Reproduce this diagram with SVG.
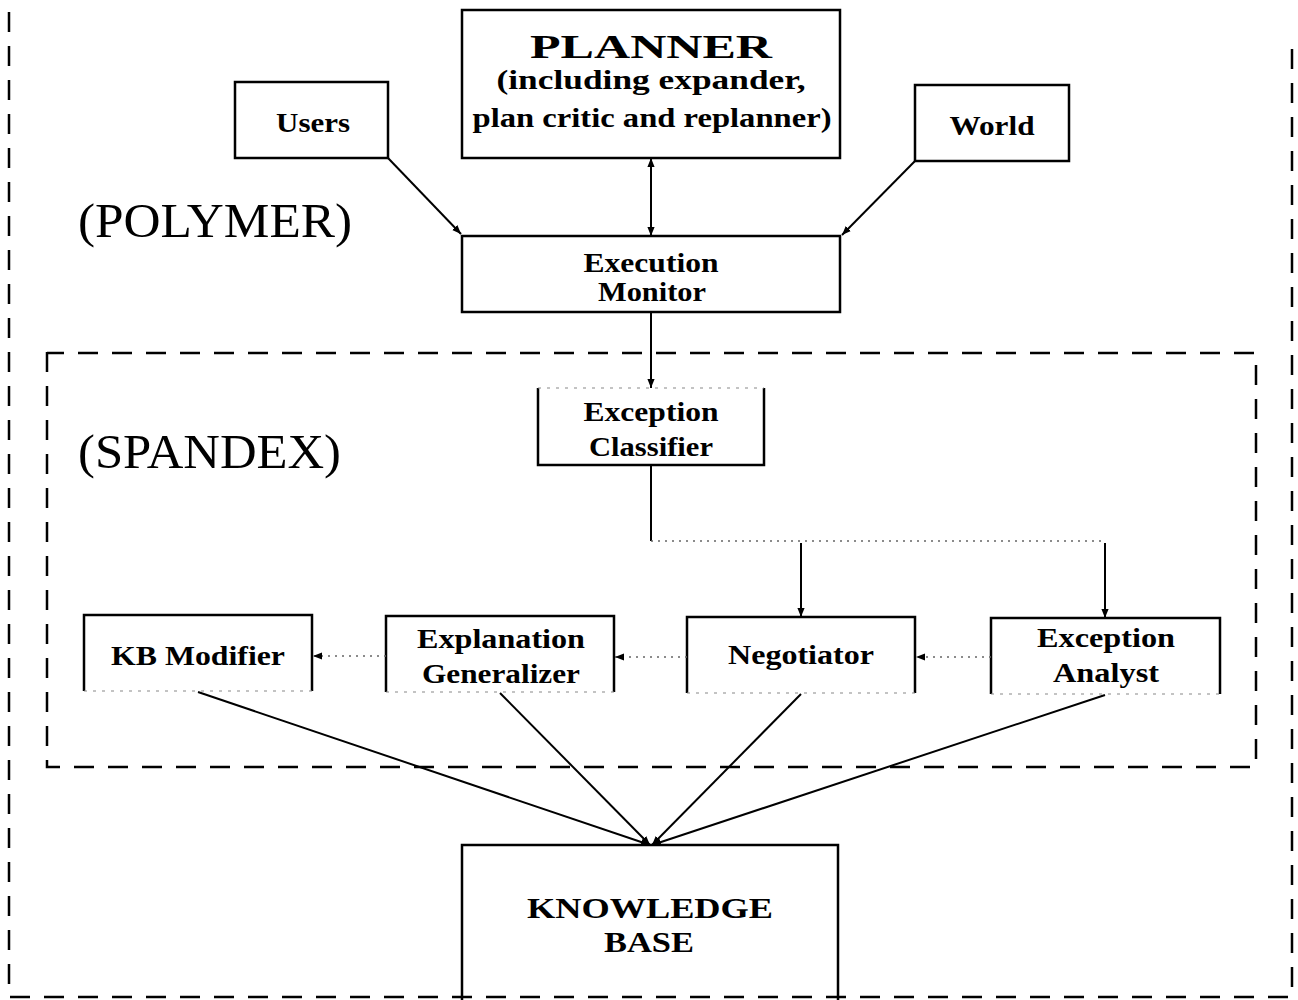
<svg xmlns="http://www.w3.org/2000/svg" width="1298" height="1000" viewBox="0 0 1298 1000">
<style>
.box{fill:none;stroke:#000;stroke-width:2.5}
.faint{fill:none;stroke:#888;stroke-width:1.2;stroke-dasharray:3 6}
.t{font-family:"Liberation Serif","Times New Roman",serif;font-weight:bold;font-size:28px;text-anchor:middle;fill:#000}
.t.lg{font-size:33px}
.t.kb{font-size:30px}
.big{font-family:"Liberation Serif","Times New Roman",serif;font-size:48px;fill:#000}
.ln{fill:none;stroke:#000;stroke-width:2}
.dot{fill:none;stroke:#666;stroke-width:1.3;stroke-dasharray:2 5}
.dash{fill:none;stroke:#000;stroke-width:2.5;stroke-dasharray:20 14}
</style>
<defs>
<marker id="ah" viewBox="0 0 10 10" refX="10" refY="5" markerWidth="9" markerHeight="9" markerUnits="userSpaceOnUse" orient="auto-start-reverse">
<path d="M0,1 L10,5 L0,9 z" fill="#000"/>
</marker>
</defs>

<g id="frames">
<path class="dash" d="M9,12 V997 H1292 V40"/>
<path class="dash" d="M47,352 V767 H1256 V353 H47"/>
<text class="big" x="78" y="237" textLength="274" lengthAdjust="spacingAndGlyphs">(POLYMER)</text>
<text class="big" x="78" y="468" textLength="263" lengthAdjust="spacingAndGlyphs">(SPANDEX)</text>
</g>

<g id="planner">
<rect class="box" x="462" y="10" width="378" height="148"/>
<text class="t lg" x="651" y="58" textLength="242" lengthAdjust="spacingAndGlyphs">PLANNER</text>
<text class="t" x="651" y="89" textLength="309" lengthAdjust="spacingAndGlyphs">(including expander,</text>
<text class="t" x="652" y="127" textLength="359" lengthAdjust="spacingAndGlyphs">plan critic and replanner)</text>
</g>
<g id="users">
<rect class="box" x="235" y="82" width="153" height="76"/>
<text class="t" x="313" y="132" textLength="74" lengthAdjust="spacingAndGlyphs">Users</text>
</g>
<g id="world">
<rect class="box" x="915" y="85" width="154" height="76"/>
<text class="t" x="992" y="135" textLength="85" lengthAdjust="spacingAndGlyphs">World</text>
</g>
<g id="execution-monitor">
<rect class="box" x="462" y="236" width="378" height="76"/>
<text class="t" x="651" y="272" textLength="135" lengthAdjust="spacingAndGlyphs">Execution</text>
<text class="t" x="652" y="301" textLength="108" lengthAdjust="spacingAndGlyphs">Monitor</text>
</g>
<g id="exception-classifier">
<path class="box" d="M538,388 V465 H764 V388"/>
<line class="faint" x1="538" y1="388" x2="764" y2="388"/>
<text class="t" x="651" y="421" textLength="135" lengthAdjust="spacingAndGlyphs">Exception</text>
<text class="t" x="651" y="456" textLength="124" lengthAdjust="spacingAndGlyphs">Classifier</text>
</g>
<g id="kb-modifier">
<path class="box" d="M84,691 V615 H312 V691"/>
<line class="faint" x1="84" y1="691" x2="312" y2="691"/>
<text class="t" x="198" y="665" textLength="174" lengthAdjust="spacingAndGlyphs">KB Modifier</text>
</g>
<g id="explanation-generalizer">
<path class="box" d="M386,692 V616 H614 V692"/>
<line class="faint" x1="386" y1="692" x2="614" y2="692"/>
<text class="t" x="501" y="648" textLength="168" lengthAdjust="spacingAndGlyphs">Explanation</text>
<text class="t" x="501" y="683" textLength="158" lengthAdjust="spacingAndGlyphs">Generalizer</text>
</g>
<g id="negotiator">
<path class="box" d="M687,693 V617 H915 V693"/>
<line class="faint" x1="687" y1="693" x2="915" y2="693"/>
<text class="t" x="801" y="664" textLength="146" lengthAdjust="spacingAndGlyphs">Negotiator</text>
</g>
<g id="exception-analyst">
<path class="box" d="M991,694 V618 H1220 V694"/>
<line class="faint" x1="991" y1="694" x2="1220" y2="694"/>
<text class="t" x="1106" y="647" textLength="138" lengthAdjust="spacingAndGlyphs">Exception</text>
<text class="t" x="1106" y="682" textLength="106" lengthAdjust="spacingAndGlyphs">Analyst</text>
</g>
<g id="knowledge-base">
<rect class="box" x="462" y="845" width="376" height="160"/>
<text class="t kb" x="650" y="918" textLength="246" lengthAdjust="spacingAndGlyphs">KNOWLEDGE</text>
<text class="t kb" x="649" y="952" textLength="90" lengthAdjust="spacingAndGlyphs">BASE</text>
</g>

<g id="connectors">
<line class="ln" x1="651" y1="158" x2="651" y2="236" marker-start="url(#ah)" marker-end="url(#ah)"/>
<line class="ln" x1="388" y1="158" x2="461" y2="234" marker-end="url(#ah)"/>
<line class="ln" x1="915" y1="161" x2="842" y2="235" marker-end="url(#ah)"/>
<line class="ln" x1="651" y1="312" x2="651" y2="388" marker-end="url(#ah)"/>
<line class="ln" x1="651" y1="465" x2="651" y2="541"/>
<line class="dot" x1="651" y1="541" x2="1105" y2="541"/>
<line class="ln" x1="801" y1="543" x2="801" y2="617" marker-end="url(#ah)"/>
<line class="ln" x1="1105" y1="543" x2="1105" y2="618" marker-end="url(#ah)"/>
<line class="dot" x1="991" y1="657" x2="916" y2="657" marker-end="url(#ah)"/>
<line class="dot" x1="687" y1="657" x2="615" y2="657" marker-end="url(#ah)"/>
<line class="dot" x1="386" y1="656" x2="313" y2="656" marker-end="url(#ah)"/>
<line class="ln" x1="198" y1="692" x2="650" y2="845" marker-end="url(#ah)"/>
<line class="ln" x1="500" y1="693" x2="650" y2="845" marker-end="url(#ah)"/>
<line class="ln" x1="801" y1="694" x2="652" y2="845" marker-end="url(#ah)"/>
<line class="ln" x1="1105" y1="695" x2="652" y2="845" marker-end="url(#ah)"/>
</g>
</svg>
